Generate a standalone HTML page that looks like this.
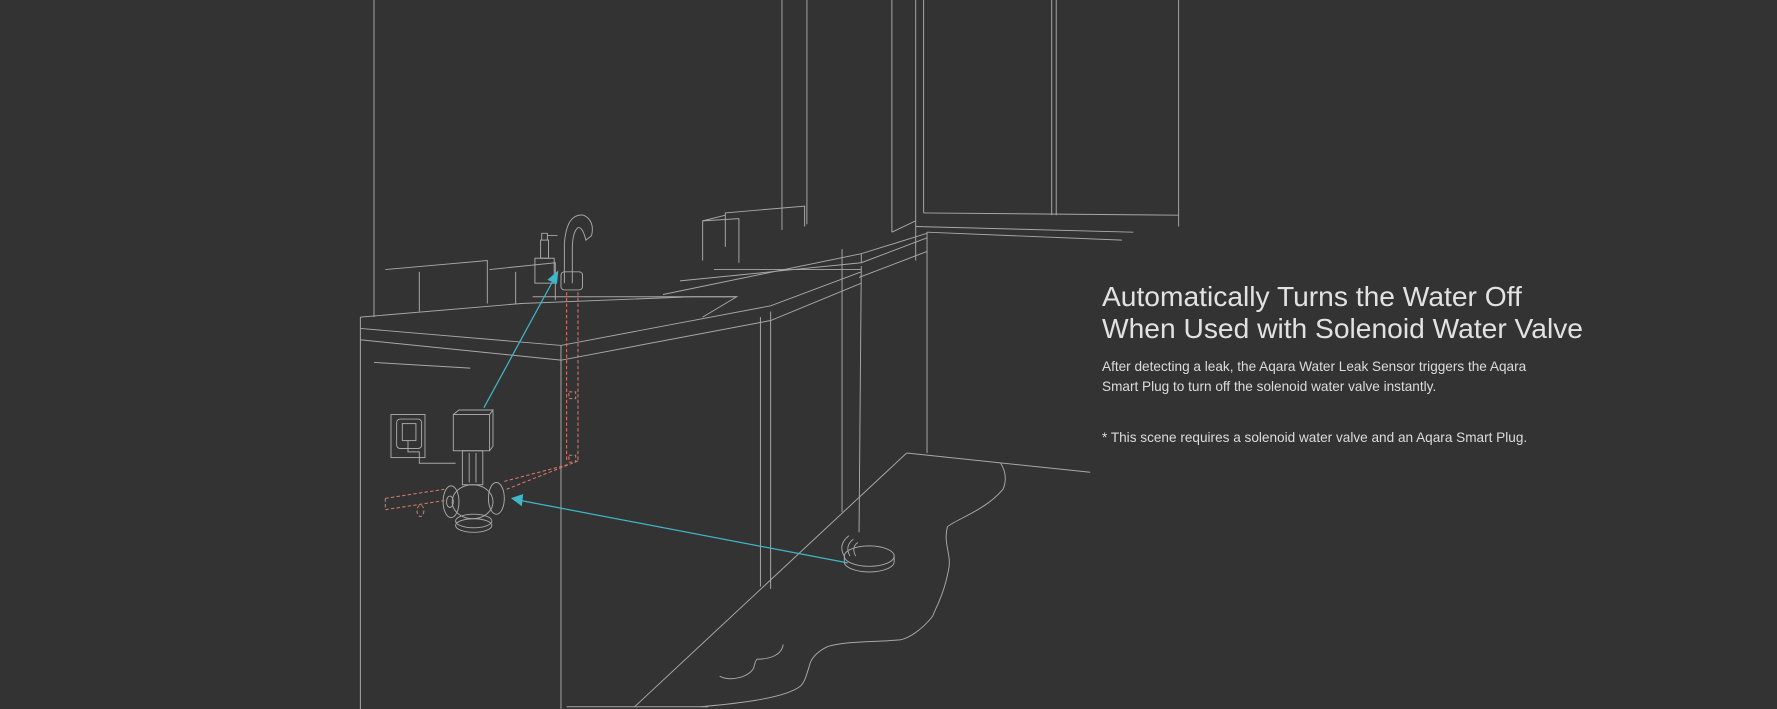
<!DOCTYPE html>
<html><head><meta charset="utf-8">
<style>
html,body{margin:0;padding:0;background:#333333;}
#wrap{position:relative;width:1777px;height:709px;overflow:hidden;background:#333333;font-family:"Liberation Sans",Arial,sans-serif;}
svg{position:absolute;left:0;top:0;}
.t{position:absolute;left:1102px;color:#e6e6e6;white-space:nowrap;}
h1{margin:0;font-weight:normal;font-size:28.2px;line-height:32px;position:absolute;left:1102px;top:280px;color:#e2e2e2;white-space:nowrap;}
</style></head><body><div id="wrap">
<svg width="1777" height="709" viewBox="0 0 1568 626" preserveAspectRatio="none">
<g fill="none" stroke="#a8a8a8" stroke-width="0.85">
<line x1="330" y1="0" x2="330" y2="280"/>
<line x1="690" y1="0" x2="690" y2="203"/>
<line x1="712" y1="0" x2="712" y2="198"/>
<line x1="787" y1="0" x2="787" y2="205"/>
<line x1="808" y1="0" x2="808" y2="230"/>
<line x1="818" y1="205" x2="818" y2="400"/>
<line x1="815" y1="0" x2="815" y2="188"/>
<line x1="928" y1="0" x2="928" y2="190"/>
<line x1="932" y1="0" x2="932" y2="190"/>
<line x1="1040" y1="0" x2="1040" y2="200"/>
<line x1="815" y1="188" x2="1040" y2="190"/>
<line x1="808" y1="200" x2="1000" y2="205"/>
<line x1="818" y1="205" x2="990" y2="212"/>
<line x1="787" y1="205" x2="808" y2="195"/>
<polyline points="620,230 620,195 652,193 652,232"/>
<polyline points="640,218 640,188 710,182 710,200"/>
<line x1="620" y1="195" x2="640" y2="190"/>
<polyline points="585,260 760,224 818,206"/>
<polyline points="600,248 760,232 818,210"/>
<line x1="760" y1="224" x2="760" y2="232"/>
<polyline points="630,238 760,238"/>
<line x1="760" y1="235" x2="758" y2="470"/>
<line x1="758" y1="245" x2="818" y2="222"/>
<polyline points="340,238 430,230 430,268"/>
<polyline points="370,240 370,275"/>
<polyline points="432,238 490,232 490,265"/>
<line x1="455" y1="240" x2="455" y2="268"/>
<rect x="472" y="228" width="17" height="22"/>
<rect x="477" y="212" width="7" height="16"/>
<path d="M478 212 v-6 h5 v6 M483 208 h9"/>
<path d="M498 250 V215 Q500 188 515 190 Q525 195 522 208 L517 212 Q514 200 510 201 Q505 205 505 220 V250"/>
<rect x="495" y="240" width="19" height="16" rx="3"/>
<polyline points="318,280 460,268 610,262 650,262"/>
<polyline points="318,290 495,305 680,270 760,240"/>
<polyline points="318,300 495,318 680,283 760,250"/>
<line x1="495" y1="305" x2="495" y2="626"/>
<line x1="318" y1="280" x2="318" y2="626"/>
<polyline points="470,262 610,262 650,262 620,280"/>
<line x1="330" y1="320" x2="415" y2="325"/>
<line x1="680" y1="275" x2="680" y2="520"/>
<line x1="800" y1="400" x2="560" y2="624"/>
<line x1="800" y1="400" x2="962" y2="417"/>
<line x1="743" y1="220" x2="743" y2="452"/>
<line x1="671" y1="280" x2="671" y2="518"/>
<line x1="500" y1="624" x2="625" y2="624"/>
<path d="M883 409 C890 420 886 430 885 432 C870 450 845 458 836 465 C832 480 840 490 837 503 C833 525 825 538 823 544 C812 558 800 564 794 565 C770 567 745 566 730 571 C718 577 716 583 715 585 C712 595 710 603 706 606 C690 618 640 622 618 624"/>
<path d="M635 597 C645 602 660 598 665 590 C666 585 667 583 668 582 C680 582 690 578 691 569"/>
<ellipse cx="767" cy="491" rx="22" ry="9"/>
<path d="M745 491 v5 a22 9 0 0 0 44 0 v-5"/>
<path d="M757 479 q-6 4 -2 12 M753 476 q-8 6 -3 15 M749 473 q-10 8 -4 18" stroke-width="0.8"/>
<rect x="345" y="366" width="30" height="38"/>
<rect x="350" y="370" width="22" height="26" rx="3"/>
<rect x="355" y="374" width="12" height="15"/>
<path d="M360 389 v10 h10 v10 h32"/>
<rect x="400" y="366" width="32" height="32"/>
<path d="M400 366 l5 -4 h30 l-3 4 M432 398 l3 -4 v-32"/>
<rect x="408" y="398" width="18" height="30"/>
<line x1="414" y1="400" x2="414" y2="426"/><line x1="420" y1="400" x2="420" y2="426"/>
<ellipse cx="417" cy="443" rx="18" ry="15"/>
<ellipse cx="398" cy="443" rx="7" ry="14"/>
<ellipse cx="438" cy="440" rx="7" ry="14"/>
<ellipse cx="418" cy="460" rx="16" ry="6"/>
<ellipse cx="418" cy="464" rx="16" ry="6"/>
<ellipse cx="397" cy="443" rx="3" ry="5"/>
</g>
<g fill="none" stroke="#d97a6c" stroke-width="0.9" stroke-dasharray="3,2">
<line x1="500" y1="258" x2="500" y2="406"/>
<line x1="510" y1="258" x2="510" y2="406"/>
<rect x="502" y="346" width="6" height="6"/>
<rect x="502" y="402" width="6" height="6"/>
<line x1="445" y1="425" x2="502" y2="410"/>
<line x1="447" y1="432" x2="510" y2="407"/>
<line x1="340" y1="440" x2="392" y2="432"/>
<line x1="340" y1="450" x2="392" y2="442"/>
<line x1="340" y1="440" x2="340" y2="450"/>
<ellipse cx="371" cy="451" rx="3" ry="5"/>
</g>
<g stroke="#3fb6c9" stroke-width="1.1" fill="#3fb6c9">
<line x1="427" y1="360" x2="489" y2="246"/>
<polygon points="492,240 484,247 491,250"/>
<line x1="748" y1="497" x2="460" y2="442"/>
<polygon points="452,440 461,437 460,446"/>
</g>
</svg>
<h1>Automatically Turns the Water Off<br>When Used with Solenoid Water Valve</h1>
<div class="t" style="top:357px;font-size:13.6px;line-height:20px;color:#dcdcdc;">After detecting a leak, the Aqara Water Leak Sensor triggers the Aqara<br>Smart Plug to turn off the solenoid water valve instantly.</div>
<div class="t" style="top:428px;font-size:13.6px;line-height:20px;color:#dcdcdc;">* This scene requires a solenoid water valve and an Aqara Smart Plug.</div>
</div></body></html>
